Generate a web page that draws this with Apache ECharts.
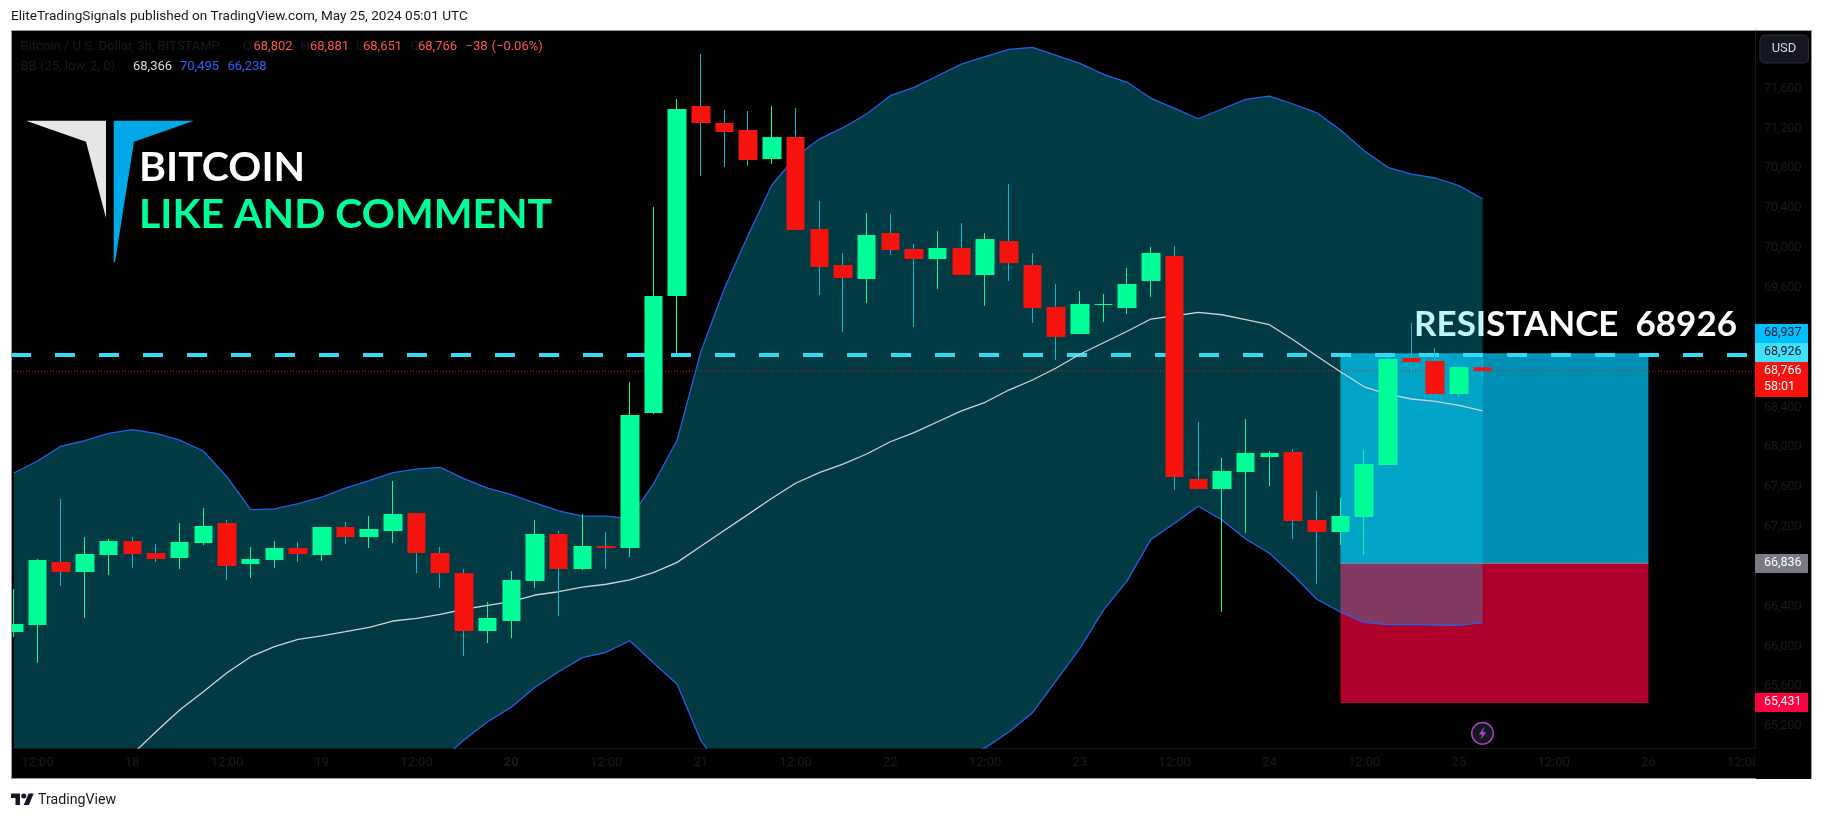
<!DOCTYPE html>
<html><head><meta charset="utf-8">
<style>html,body{margin:0;padding:0;background:#fff}#c{width:1824px;height:819px}</style>
<script src="https://cdn.jsdelivr.net/npm/echarts@6/dist/echarts.min.js"></script>
</head><body><div id="c"></div>
<script>
const firstBar = -1;
const opens = [66145,66215,66848,66747,66918,67058,66938,66888,67038,67239,66827,66868,66988,66918,67199,67098,67159,67339,66938,66737,66155,66255,66657,67129,66777,67008,66988,68343,69518,71426,71255,71185,70894,71114,70191,69829,69689,70151,69990,69890,70000,69729,70070,69829,69408,69137,69428,69398,69669,69920,67681,67580,67751,67902,67952,67269,67149,67299,67821,68896,68866,68534,68802];
const closes = [66225,66868,66747,66928,67058,66928,66878,67048,67209,66807,66878,66988,66928,67199,67098,67179,67329,66938,66737,66155,66285,66667,67129,66777,67008,66988,68323,69518,71396,71255,71165,70884,71114,70181,69809,69699,70131,69980,69890,70000,69729,70090,69849,69398,69107,69438,69438,69639,69950,67701,67580,67761,67942,67942,67259,67149,67309,67831,68886,68855,68534,68805,68766];
const lows = [66094,65836,66607,66285,66717,66787,66848,66777,67018,66667,66687,66787,66848,66858,67028,66988,67038,66737,66586,65904,66034,66084,66586,66305,66767,66777,66898,68333,68946,70723,70813,70823,70843,70181,69528,69157,69448,69930,69207,69588,69729,69418,69669,69247,68876,69137,69257,69337,69508,67570,67580,66346,67139,67611,67078,66627,67018,66918,67821,68755,68524,68504,68651];
const highs = [66576,66878,67480,67098,67078,67098,67028,67239,67390,67269,66998,67058,67048,67199,67249,67309,67661,67339,66998,66777,66446,66757,67269,67159,67329,67149,68655,70412,71496,71948,71386,71376,71426,71406,70472,69950,70351,70341,70040,70171,70251,70151,70643,69950,69639,69568,69538,69799,70010,70020,68253,67892,68283,67962,67982,67560,67490,67972,68896,69247,68996,68805,68881];
const bbUpper = [67741,67862,68012,68065,68140,68176,68140,68072,67962,67701,67373,67380,67433,67500,67590,67664,67744,67781,67798,67684,67590,67523,67440,67360,67309,67309,67282,67631,68072,68959,69596,70131,70633,70914,71094,71208,71345,71529,71613,71730,71847,71921,71995,72015,71935,71854,71744,71664,71503,71403,71298,71396,71493,71526,71446,71358,71185,70977,70810,70743,70703,70626,70495];
const bbMid = [63876,64076,64277,64498,64709,64916,65144,65362,65545,65736,65897,65997,66071,66105,66148,66192,66255,66282,66322,66373,66413,66449,66516,66549,66596,66624,66667,66740,66844,67005,67166,67326,67487,67638,67744,67831,67932,68055,68146,68256,68364,68451,68574,68675,68795,68933,69049,69164,69287,69320,69354,69330,69280,69230,69079,68916,68758,68607,68534,68484,68461,68421,68366];
const bbLower = [60011,60290,60542,60931,61278,61656,62148,62652,63128,63771,64421,64614,64709,64710,64706,64720,64766,64783,64846,65060,65244,65389,65590,65746,65887,65941,66057,65836,65620,65053,64736,64521,64341,64362,64394,64454,64519,64581,64679,64782,64881,64981,65141,65335,65656,65981,66366,66660,67075,67236,67407,67269,67078,66935,66717,66473,66345,66242,66218,66222,66215,66212,66238];
const timeTickBars = [0,4,8,12,16,20,24,28,32,36,40,44,48,52,56,60,64,68,72];
const timeTickLabels = ['12:00','18','12:00','19','12:00','20','12:00','21','12:00','22','12:00','23','12:00','24','12:00','25','12:00','26','12:00'];
const priceTicks = [65200,65600,66000,66400,66800,67200,67600,68000,68400,68800,69200,69600,70000,70400,70800,71200,71600];
const resistance = 68926;
const lastPrice = 68766;
const boxBars = [55,68];
const boxTop = 68937, boxEntry = 66836, boxStop = 65431;

const xMin = -1.1186, xMax = 72.4985, yMin = 64980, yMax = 72189;
const bars = opens.map((_,i)=>i+firstBar);
const G='#00ff99', R='#f7130d', W='#00bcd4', DIM='#171a24';
const FONT='Roboto';
const tx=(text,x,y,size,fill,o={})=>({type:'text',x,y,z:o.z||30,silent:true,style:{text,fill,fontSize:size,fontFamily:o.font||FONT,fontWeight:o.weight||'normal',align:o.align||'left',verticalAlign:'middle'}});
const rc=(x,y,w,h,fill,z,o={})=>({type:'rect',z:z,silent:true,shape:{x,y,width:w,height:h,r:o.r||0},style:{fill,stroke:o.stroke||null,lineWidth:o.stroke?1:0}});
const tv=(p)=>p.map(q=>[11+0.639*q[0],793.5+0.639*(q[1]-4)]);

const graphics=[
  rc(11,30,1801,749,'#000',-5),
  // page margin covers the part of the first candle left of the chart
  rc(0,30,11,749,'#fff',10),
  // frame
  rc(11,30,1801,1,'#9598a1',40), rc(11,30,1,749,'#9598a1',40), rc(1811,30,1,749,'#9598a1',40), rc(11,778,1745,1,'#9598a1',40),
  // header and footer
  tx('EliteTradingSignals published on TradingView.com, May 25, 2024 05:01 UTC',11,17,13.58,'#131722'),
  {type:'polygon',z:30,silent:true,shape:{points:tv([[0,4],[14,4],[14,22],[7,22],[7,11],[0,11]])},style:{fill:'#131722'}},
  {type:'polygon',z:30,silent:true,shape:{points:tv([[20,22],[27.5,4],[35.5,4],[28,22]])},style:{fill:'#131722'}},
  {type:'circle',z:30,silent:true,shape:{cx:11+0.639*20,cy:793.5+0.639*4,r:2.5},style:{fill:'#131722'}},
  tx('TradingView',38,800,14.2,'#131722'),
  // legend
  tx('Bitcoin / U.S. Dollar, 3h, BITSTAMP',20.5,47,13,DIM),
  tx('O',243,47,13,DIM), tx('68,802',253.5,47,13,'#ff5252'),
  tx('H',300.5,47,13,DIM), tx('68,881',310,47,13,'#ff5252'),
  tx('L',356,47,13,DIM), tx('68,651',363,47,13,'#ff5252'),
  tx('C',410.5,47,13,DIM), tx('68,766',418,47,13,'#ff5252'),
  tx('−38',465.5,47,13,'#ff5252'), tx('(−0.06%)',491.5,47,13,'#ff5252'),
  tx('BB (25, low, 2, 0)',20.5,66.5,13,DIM),
  tx('68,366',133,66.5,13,'#d8dadf'), tx('70,495',180,66.5,13,'#2962ff'), tx('66,238',227.5,66.5,13,'#2962ff'),
  // logo and titles
  {type:'polygon',z:30,silent:true,shape:{points:[[26,120.7],[106,120.7],[106,218],[86,141.7]]},style:{fill:'#e6e6e6'}},
  {type:'polygon',z:30,silent:true,shape:{points:[[113.7,120.7],[194,120.7],[134,141.7],[115,262],[113.7,262]]},style:{fill:'#00a8e8'}},
  tx('BITCOIN',139,168,41,'#fff',{font:'Lato',weight:'bold'}),
  tx('LIKE AND COMMENT',139,215,41,G,{font:'Lato',weight:'bold'}),
  // drawing text sits under the Bollinger fill, so the fill tints it
  tx('RESISTANCE  68926',1414,324.5,35,'#fff',{font:'Lato',weight:'bold',z:1}),
  // price scale panel
  rc(1756,749,55,29,'#000',20),
  rc(1760,35,48.5,28,'#131722',31,{r:5,stroke:'#2a2e39'}),
  tx('USD',1784,49,13,'#d1d4dc',{align:'center',z:32}),
  rc(1755,324,53,19,'#00bfff',31), tx('68,937',1764,333,12.5,'#131722',{z:32}),
  rc(1755,343,53,19,'#40e0ff',31), tx('68,926',1764,352,12.5,'#131722',{z:32}),
  rc(1755,362,53,35,R,31), tx('68,766',1764,370.5,12.5,'#fff',{z:32}), tx('58:01',1764,386.5,12.5,'#fff',{z:32}),
  rc(1755,554,53,19,'#787b86',31), tx('66,836',1764,563,12.5,'#fff',{z:32}),
  rc(1755,693,53,19,'#ff0040',31), tx('65,431',1764,702,12.5,'#fff',{z:32}),
  // event marker
  {type:'circle',z:31,silent:true,shape:{cx:1482.5,cy:733.3,r:10.8},style:{fill:'#131722',stroke:'#ab47bc',lineWidth:1.4}},
  {type:'polygon',z:32,silent:true,shape:{points:[[1484.6,726.5],[1478.8,734.5],[1482.2,734.5],[1480.4,740],[1486.2,732.3],[1482.8,732.3]]},style:{fill:'#ab47bc'}}
];

const boxes=[[boxBars[0],boxBars[1],boxTop,boxEntry,'#008fb4','#00bfe6'],[boxBars[0],boxBars[1],boxEntry,boxStop,'#b0002c','#8a8f9c']];
const flatLine=(v,color,width,type,z)=>({type:'line',silent:true,z,symbol:'none',data:[[xMin,v],[xMax,v]],lineStyle:{color,width,type}});
const blueLine=(arr)=>({type:'line',silent:true,z:3,symbol:'none',data:bars.map((b,i)=>[b,arr[i]]),lineStyle:{color:'#2460e6',width:1.3}});

const option={
  animation:false,backgroundColor:'#fff',
  grid:{left:11,right:69,top:30,bottom:71,show:false},
  xAxis:{type:'value',min:xMin,max:xMax,splitLine:{show:false},axisLine:{show:true,lineStyle:{color:'#131722'},onZero:false},axisTick:{show:false},
    axisLabel:{customValues:timeTickBars,color:DIM,fontSize:13,fontFamily:FONT,margin:8,hideOverlap:false,showMinLabel:true,showMaxLabel:true,
      formatter:v=>{const s=timeTickLabels[timeTickBars.indexOf(v)]||'';return s==='20'?'{b|20}':s;},rich:{b:{fontWeight:'bold',color:DIM,fontSize:13,fontFamily:FONT}}}},
  yAxis:{type:'value',position:'right',min:yMin,max:yMax,scale:true,splitLine:{show:false},axisLine:{show:true,lineStyle:{color:'#131722'},onZero:false},axisTick:{show:false},
    axisLabel:{customValues:priceTicks,color:DIM,fontSize:12.5,fontFamily:FONT,margin:9,align:'left',formatter:v=>v.toLocaleString('en-US')}},
  graphic:{elements:graphics},
  series:[
    {type:'custom',silent:true,z:1,clip:true,data:boxes,encode:{x:[0,1],y:[2,3]},
      renderItem:(p,api)=>{const b=boxes[p.dataIndex];const a=api.coord([b[0],b[2]]),c=api.coord([b[1],b[3]]);
        return {type:'group',children:[
          {type:'rect',shape:{x:a[0],y:a[1],width:c[0]-a[0],height:c[1]-a[1]},style:{fill:b[4]}},
          {type:'rect',shape:{x:a[0],y:a[1]-0.5,width:c[0]-a[0],height:1},style:{fill:b[5]}}]};}},
    {type:'custom',silent:true,z:2,clip:true,data:[[bars[0],bbUpper[0]]],encode:{x:0,y:1},
      renderItem:(p,api)=>{
        const pts=bars.map((b,i)=>api.coord([b,bbUpper[i]])).concat(bars.map((b,i)=>api.coord([b,bbLower[i]])).reverse());
        return {type:'polygon',shape:{points:pts},style:{fill:'rgba(5,223,255,0.26)'}};}},
    flatLine(resistance,'#30dcf5',4,[20,24],3),
    flatLine(lastPrice,R,1,[1,2],3),
    blueLine(bbUpper),blueLine(bbLower),
    {type:'line',silent:true,z:3,symbol:'none',data:bars.map((b,i)=>[b,bbMid[i]]),lineStyle:{color:'#cfd3d6',width:1.3}},
    {type:'candlestick',silent:true,z:4,barWidth:1,encode:{x:0,y:[1,2,3,4]},data:bars.map((b,i)=>[b,opens[i],closes[i],lows[i],highs[i]]),
      itemStyle:{color:G,color0:R,borderColor:G,borderColor0:W,borderWidth:1}},
    {type:'candlestick',silent:true,z:5,barWidth:19,encode:{x:0,y:[1,2,3,4]},data:bars.map((b,i)=>[b,opens[i],closes[i],Math.min(opens[i],closes[i]),Math.max(opens[i],closes[i])]),
      itemStyle:{color:G,color0:R,borderColor:G,borderColor0:R,borderWidth:0}}
  ]
};
echarts.init(document.getElementById('c'),null,{renderer:'canvas'}).setOption(option);
</script></body></html>
